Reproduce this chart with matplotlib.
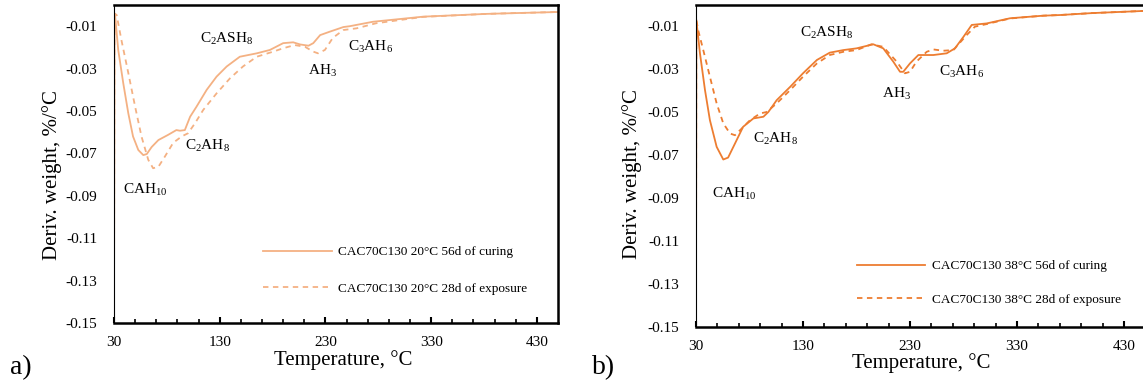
import matplotlib
matplotlib.use("Agg")
import matplotlib.pyplot as plt
from matplotlib.ticker import FixedLocator

plt.rcParams['font.family'] = ['Liberation Serif', 'DejaVu Serif']
plt.rcParams['mathtext.fontset'] = 'custom'
plt.rcParams['mathtext.rm'] = 'Liberation Serif'
plt.rcParams['mathtext.it'] = 'Liberation Serif:italic'

# panel a: 20 °C
temp_a1 = [30, 30.5, 31, 34, 38.8, 43.5, 48, 53, 57.7, 61, 65.6, 72, 81, 89, 92.4, 97, 102, 108,
           117.7, 127, 136.6, 149, 165, 177.5, 190, 199.5, 206, 214, 218.5, 225, 234, 247, 253, 275,
           322.5, 382, 411, 450]
dtg_a1 = [-0.15, -0.004, -0.0047, -0.0212, -0.037, -0.051, -0.062, -0.0684, -0.0708, -0.0703,
          -0.067, -0.0637, -0.0613, -0.059, -0.0593, -0.059, -0.0527, -0.048, -0.040, -0.0338,
          -0.029, -0.0244, -0.0228, -0.0212, -0.018, -0.0176, -0.0186, -0.0192, -0.018, -0.0142,
          -0.0126, -0.0104, -0.0100, -0.0079, -0.0055, -0.0042, -0.0038, -0.0033]
temp_a2 = [30, 30.5, 32.5, 37, 43.5, 50, 56, 62.4, 67, 72, 78, 86, 94, 100, 106.6, 114.4, 127,
           139.7, 152, 165, 180.6, 190, 201, 210.6, 218.5, 223, 229.5, 237, 247, 259.5, 278, 322.5,
           382, 411, 450]
dtg_a2 = [-0.15, -0.004, -0.0047, -0.0165, -0.032, -0.048, -0.062, -0.073, -0.077, -0.0763,
          -0.0716, -0.065, -0.062, -0.0605, -0.0558, -0.0495, -0.0417, -0.0346, -0.029, -0.0244,
          -0.022, -0.0204, -0.0189, -0.0197, -0.022, -0.0228, -0.0212, -0.0155, -0.0118, -0.011,
          -0.0086, -0.0056, -0.0042, -0.0038, -0.0033]

# panel b: 38 °C
temp_b1 = [30, 30.3, 33.7, 38.4, 43, 49.3, 55.5, 60, 66.4, 74, 83.6, 93, 97.6, 105.4, 118, 130,
           143, 155, 167.7, 180, 195.7, 205, 214.4, 220.7, 223.7, 230, 237.8, 251.8, 264.3, 272,
           280, 287.7, 301.7, 323.5, 354.6, 370, 400, 448]
dtg_b1 = [-0.15, -0.0072, -0.0227, -0.0398, -0.0538, -0.0662, -0.0721, -0.0712, -0.0647, -0.0569,
          -0.053, -0.0522, -0.050, -0.0445, -0.0383, -0.032, -0.0258, -0.0224, -0.0212, -0.0204,
          -0.0185, -0.0204, -0.0266, -0.0313, -0.0313, -0.0274, -0.0235, -0.0235, -0.0227, -0.0204,
          -0.015, -0.0095, -0.0088, -0.0064, -0.0052, -0.0049, -0.0040, -0.0030]
temp_b2 = [30, 30.3, 32, 36.8, 43, 49.3, 55.5, 61.8, 66.4, 72.7, 80.5, 89.8, 96, 105.4, 118, 130,
           143, 155, 167.7, 180, 194, 205, 217.6, 225.3, 230, 236, 245.6, 251.8, 261, 270.5, 283,
           290.7, 301.7, 323.5, 354.6, 370, 400, 448]
dtg_b2 = [-0.15, -0.0072, -0.0119, -0.0212, -0.0336, -0.046, -0.0553, -0.060, -0.0608, -0.0577,
          -0.0538, -0.0507, -0.050, -0.046, -0.0398, -0.0336, -0.0274, -0.0235, -0.022, -0.0212,
          -0.0185, -0.0197, -0.0266, -0.032, -0.0313, -0.0266, -0.022, -0.0209, -0.0215, -0.0212,
          -0.0142, -0.0103, -0.0091, -0.0065, -0.0052, -0.0049, -0.0040, -0.0030]

labels_a = ['CAC70C130 20°C 56d of curing', 'CAC70C130 20°C 28d of exposure']
labels_b = ['CAC70C130 38°C 56d of curing', 'CAC70C130 38°C 28d of exposure']

# peak labels: (text, T, value)
peaks_a = [(r'$\mathrm{C_2ASH_8}$', 111, -0.016), (r'$\mathrm{C_2AH_8}$', 97, -0.0665),
           (r'$\mathrm{CAH_{10}}$', 38.5, -0.0873), (r'$\mathrm{AH_3}$', 213.5, -0.031),
           (r'$\mathrm{C_3AH_6}$', 251, -0.0198)]
peaks_b = [(r'$\mathrm{C_2ASH_8}$', 127, -0.0133), (r'$\mathrm{C_2AH_8}$', 83, -0.0627),
           (r'$\mathrm{CAH_{10}}$', 45, -0.0883), (r'$\mathrm{AH_3}$', 204, -0.0417),
           (r'$\mathrm{C_3AH_6}$', 257, -0.0314)]

W, H = 1143, 383
fig = plt.figure(figsize=(W / 100, H / 100), dpi=100)


def panel(rect, t1, d1, t2, d2, color, labels, peaks, leg_anchor, leg_spacing, ylab_pos, xlab_pos):
    ax = fig.add_axes(rect)
    ax.plot(t1, d1, color=color, lw=1.3, label=labels[0])
    ax.plot(t2, d2, color=color, lw=1.3, linestyle=(0, (3, 2.5)), label=labels[1])
    ax.set_xlim(30, 450)
    ax.set_ylim(-0.15, 0)
    ax.xaxis.set_major_locator(FixedLocator([30, 130, 230, 330, 430]))
    ax.xaxis.set_minor_locator(FixedLocator(list(range(50, 450, 20))))
    ax.yaxis.set_major_locator(FixedLocator([-0.15, -0.13, -0.11, -0.09, -0.07, -0.05, -0.03, -0.01]))
    ax.set_yticklabels(['-0.15', '-0.13', '-0.11', '-0.09', '-0.07', '-0.05', '-0.03', '-0.01'])
    ax.tick_params(axis='x', which='major', direction='in', length=4, width=1.5, labelsize=11, pad=9)
    ax.tick_params(axis='x', which='minor', direction='in', length=3, width=1.2)
    ax.tick_params(axis='y', length=0, labelsize=11, pad=12)
    for s in ['top', 'right', 'bottom']:
        ax.spines[s].set_linewidth(1.8)
    ax.spines['left'].set_linewidth(0.8)
    ax.set_ylabel('Deriv. weight, %/°C', fontsize=15)
    ax.yaxis.set_label_coords(*ylab_pos)
    ax.set_xlabel('Temperature, °C', fontsize=15)
    ax.xaxis.set_label_coords(*xlab_pos)
    for txt, t, v in peaks:
        ax.text(t, v, txt, fontsize=11, ha='left', va='center')
    ax.legend(loc='upper left', bbox_to_anchor=leg_anchor, frameon=False, fontsize=9.5,
              handlelength=5.2, handletextpad=0.5, labelspacing=leg_spacing,
              borderpad=0, borderaxespad=0)
    return ax


panel([114 / W, 1 - 323 / H, 444 / W, 318 / H], temp_a1, dtg_a1, temp_a2, dtg_a2, '#F4B183',
      labels_a, peaks_a, (0.3356, 0.2425), 1.85, (-0.117, 0.465), (0.516, -0.085))
panel([696 / W, 1 - 327 / H, 449.4 / W, 322.5 / H], temp_b1, dtg_b1, temp_b2, dtg_b2, '#ED7D31',
      labels_b, peaks_b, (0.358, 0.2075), 1.6, (-0.120, 0.474), (0.5, -0.081))

fig.text(10 / W, 1 - 368 / H, 'a)', fontsize=20, va='center', ha='left')
fig.text(592 / W, 1 - 368 / H, 'b)', fontsize=20, va='center', ha='left')

fig.savefig('out.png', dpi=100)
